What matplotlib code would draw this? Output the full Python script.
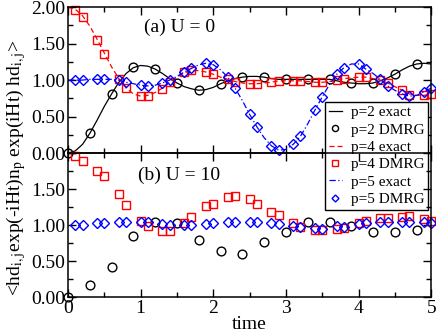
import numpy as np
import matplotlib
matplotlib.use("Agg")
import matplotlib.pyplot as plt

plt.rcParams["font.family"] = ["Liberation Serif", "DejaVu Serif"]
plt.rcParams["mathtext.fontset"] = "stix"

# time grids
t_line = np.round(np.linspace(0, 5, 51), 2)
t_circ = [0.0, 0.3, 0.6, 0.9, 1.2, 1.5, 1.8, 2.1, 2.4, 2.7, 3.0, 3.3, 3.6, 3.9, 4.2, 4.5, 4.8]
t_pair = [0.1, 0.2, 0.4, 0.5, 0.7, 0.8, 1.0, 1.1, 1.3, 1.4, 1.6, 1.7, 1.9, 2.0, 2.2, 2.3, 2.5,
          2.6, 2.8, 2.9, 3.1, 3.2, 3.4, 3.5, 3.7, 3.8, 4.0, 4.1, 4.3, 4.4, 4.6, 4.7, 4.9, 5.0]

# (a) U = 0, exact curves
p2_exact = [0.00, 0.03, 0.12, 0.27, 0.45, 0.64, 0.81, 0.97, 1.09, 1.17, 1.20, 1.19, 1.15, 1.09,
            1.02, 0.96, 0.91, 0.88, 0.86, 0.87, 0.90, 0.95, 0.99, 1.02, 1.04, 1.05, 1.05, 1.04,
            1.02, 1.01, 1.01, 1.01, 1.01, 1.01, 1.01, 1.01, 1.01, 0.99, 0.97, 0.96, 0.95, 0.95,
            0.96, 0.99, 1.03, 1.08, 1.14, 1.19, 1.22, 1.23, 1.22]
p4_exact = [2.00, 1.97, 1.88, 1.74, 1.56, 1.37, 1.18, 1.02, 0.89, 0.81, 0.78, 0.79, 0.83, 0.89,
            0.97, 1.04, 1.10, 1.13, 1.13, 1.11, 1.08, 1.04, 1.01, 0.98, 0.96, 0.95, 0.95, 0.96,
            0.97, 0.99, 0.99, 0.99, 0.99, 0.98, 0.97, 0.97, 0.98, 1.00, 1.02, 1.03, 1.04, 1.04,
            1.02, 1.00, 0.96, 0.91, 0.86, 0.81, 0.79, 0.79, 0.81]
p5_exact = [1.00, 1.00, 1.00, 1.01, 1.01, 1.01, 1.01, 1.00, 0.97, 0.95, 0.93, 0.92, 0.93, 0.96,
            1.00, 1.05, 1.11, 1.16, 1.21, 1.23, 1.21, 1.14, 1.04, 0.89, 0.72, 0.53, 0.36, 0.21,
            0.10, 0.04, 0.05, 0.12, 0.23, 0.40, 0.59, 0.77, 0.94, 1.08, 1.17, 1.22, 1.22, 1.15,
            1.09, 1.01, 0.92, 0.86, 0.81, 0.78, 0.79, 0.84, 0.89]

# (a) U = 0, DMRG
p2_dmrg_a = [0.00, 0.27, 0.81, 1.18, 1.15, 0.96, 0.86, 0.95, 1.04, 1.04, 1.01, 1.01, 1.01,
             0.96, 0.96, 1.08, 1.22]
p4_dmrg_a = [1.96, 1.86, 1.55, 1.36, 1.01, 0.89, 0.78, 0.78, 0.88, 0.97, 1.11, 1.14, 1.11, 1.08,
             1.01, 0.98, 0.95, 0.95, 0.97, 0.99, 0.99, 0.99, 0.97, 0.97, 1.00, 1.01, 1.04, 1.04,
             1.00, 0.96, 0.86, 0.80, 0.79, 0.81]
p5_dmrg_a = [1.00, 1.00, 1.01, 1.01, 1.00, 0.97, 0.93, 0.92, 0.96, 1.00, 1.11, 1.16, 1.23, 1.21,
             1.04, 0.89, 0.53, 0.36, 0.10, 0.04, 0.12, 0.23, 0.59, 0.77, 1.08, 1.16, 1.22, 1.15,
             1.01, 0.92, 0.81, 0.78, 0.84, 0.89]

# (b) U = 10, DMRG
p2_dmrg_b = [0.00, 0.17, 0.42, 0.85, 1.05, 1.03, 0.79, 0.64, 0.60, 0.76, 0.90, 1.04, 1.04,
             0.99, 0.90, 0.90, 0.93]
p4_dmrg_b = [1.96, 1.89, 1.75, 1.68, 1.43, 1.28, 1.06, 0.99, 0.92, 0.92, 1.03, 1.11, 1.26, 1.30,
             1.39, 1.41, 1.36, 1.29, 1.18, 1.14, 1.03, 0.97, 0.93, 0.93, 0.94, 0.96, 1.03, 1.06,
             1.10, 1.10, 1.11, 1.13, 1.08, 1.06]
p5_dmrg_b = [1.00, 1.00, 1.03, 1.03, 1.05, 1.05, 1.05, 1.04, 1.01, 1.00, 1.00, 1.00, 1.02, 1.03,
             1.04, 1.04, 1.05, 1.04, 1.03, 1.01, 0.99, 0.97, 0.96, 0.94, 0.99, 0.97, 1.01, 1.03,
             1.04, 1.04, 1.04, 1.04, 1.04, 1.03]

RED = "#ff0000"
BLUE = "#0000ff"
ms = 6.3
mew = 1.0

fig = plt.figure(figsize=(4.36, 3.35), dpi=100)
ax_a = fig.add_axes([0.156, 0.543, 0.833, 0.436])
ax_b = fig.add_axes([0.156, 0.113, 0.833, 0.430])
ax_b.patch.set_visible(False)

ax_a.plot(t_line, p2_exact, color="black", lw=0.9, label="p=2 exact")
ax_a.plot(t_circ, p2_dmrg_a, "o", mfc="none", mec="black", ms=ms, mew=mew,
          clip_on=False, label="p=2 DMRG")
ax_a.plot(t_line, p4_exact, color=RED, lw=0.9, ls=(0, (4, 2.5)), label="p=4 exact")
ax_a.plot(t_pair, p4_dmrg_a, "s", mfc="none", mec=RED, ms=ms, mew=mew,
          clip_on=False, label="p=4 DMRG")
ax_a.plot(t_line, p5_exact, color=BLUE, lw=0.9, ls=(0, (5, 2, 1, 2)), label="p=5 exact")
ax_a.plot(t_pair, p5_dmrg_a, "D", mfc="none", mec=BLUE, ms=ms * 0.8, mew=mew,
          clip_on=False, label="p=5 DMRG")

ax_b.plot(t_circ, p2_dmrg_b, "o", mfc="none", mec="black", ms=ms, mew=mew, clip_on=False)
ax_b.plot(t_pair, p4_dmrg_b, "s", mfc="none", mec=RED, ms=ms, mew=mew, clip_on=False)
ax_b.plot(t_pair, p5_dmrg_b, "D", mfc="none", mec=BLUE, ms=ms * 0.8, mew=mew, clip_on=False)

for ax in (ax_a, ax_b):
    ax.set_xlim(0, 5)
    ax.set_ylim(0, 2)
    ax.set_xticks([0, 1, 2, 3, 4, 5])
    ax.set_xticks(np.arange(0.5, 5, 1), minor=True)
    ax.set_yticks(np.arange(0.25, 2, 0.5), minor=True)
    ax.tick_params(which="both", direction="in", top=True, right=True, labelsize=14,
                   width=1.0)
    ax.tick_params(which="major", length=6, pad=2)
    ax.tick_params(which="minor", length=3.5)
    for sp in ax.spines.values():
        sp.set_linewidth(1.1)

ax_a.set_yticks([0, 0.5, 1.0, 1.5, 2.0])
ax_a.set_yticklabels(["0.00", "0.50", "1.00", "1.50", "2.00"])
ax_a.tick_params(labelbottom=False)
ax_b.set_yticks([0, 0.5, 1.0, 1.5, 2.0])
ax_b.set_yticklabels(["0.00", "0.50", "1.00", "1.50", ""])
ax_b.set_xlabel("time", fontsize=14, labelpad=-1)

ax_a.text(1.05, 1.72, "(a) U = 0", fontsize=14, va="center")
ax_b.text(0.97, 1.69, "(b) U = 10", fontsize=14, va="center")

fig.text(0.037, 0.5, r"<hd$_{\rm i,j}$exp(-iHt)n$_{\rm p}$ exp(iHt) hd$_{\rm i,j}$>",
         rotation=90, fontsize=14, ha="center", va="center")

leg = ax_a.legend(loc="upper right", bbox_to_anchor=(0.982, 0.696),
                  bbox_transform=fig.transFigure, fontsize=11, frameon=True,
                  fancybox=False, framealpha=1, edgecolor="black", handlelength=0.8,
                  handletextpad=0.6, borderpad=0.25, labelspacing=0.24, borderaxespad=0,
                  markerscale=0.7)
leg.get_frame().set_linewidth(1.0)
leg.set_zorder(10)

fig.savefig("out.png", dpi=100)
